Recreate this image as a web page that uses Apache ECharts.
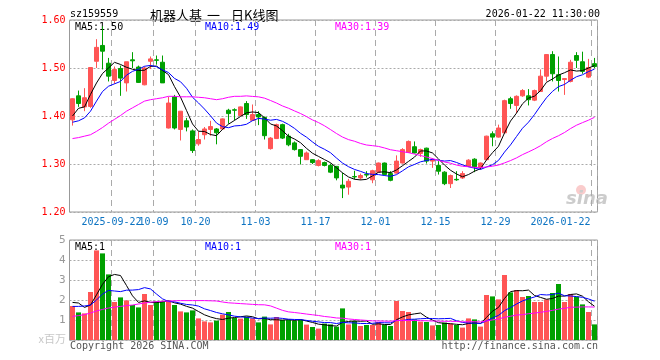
<!DOCTYPE html>
<html><head><meta charset="utf-8">
<script src="https://cdn.jsdelivr.net/npm/echarts@6/dist/echarts.min.js"></script>
<style>html,body{margin:0;padding:0;background:#fff}#c{width:660px;height:360px}</style>
</head><body><div id="c"></div>
<script>
const dates = ['2025-09-11','2025-09-12','2025-09-15','2025-09-16','2025-09-17','2025-09-18','2025-09-19','2025-09-22','2025-09-23','2025-09-24',
'2025-09-25','2025-09-26','2025-09-29','2025-09-30','2025-10-09','2025-10-10','2025-10-13','2025-10-14','2025-10-15','2025-10-16',
'2025-10-17','2025-10-20','2025-10-21','2025-10-22','2025-10-23','2025-10-24','2025-10-27','2025-10-28','2025-10-29','2025-10-30',
'2025-10-31','2025-11-03','2025-11-04','2025-11-05','2025-11-06','2025-11-07','2025-11-10','2025-11-11','2025-11-12','2025-11-13',
'2025-11-14','2025-11-17','2025-11-18','2025-11-19','2025-11-20','2025-11-21','2025-11-24','2025-11-25','2025-11-26','2025-11-27',
'2025-11-28','2025-12-01','2025-12-02','2025-12-03','2025-12-04','2025-12-05','2025-12-08','2025-12-09','2025-12-10','2025-12-11',
'2025-12-12','2025-12-15','2025-12-16','2025-12-17','2025-12-18','2025-12-19','2025-12-22','2025-12-23','2025-12-24','2025-12-25',
'2025-12-26','2025-12-29','2025-12-30','2025-12-31','2026-01-05','2026-01-06','2026-01-07','2026-01-08','2026-01-09','2026-01-12',
'2026-01-13','2026-01-14','2026-01-15','2026-01-16','2026-01-19','2026-01-20','2026-01-21','2026-01-22'];

const tickDates  = ['2025-09-22','2025-10-09','2025-10-20','2025-11-03','2025-11-17','2025-12-01','2025-12-15','2025-12-29','2026-01-22'];
const tickLabels = ['2025-09-22','10-09','10-20','11-03','11-17','12-01','12-15','12-29','2026-01-22'];

const open = [1.392,1.442,1.419,1.420,1.514,1.547,1.510,1.474,1.499,1.469,
1.517,1.502,1.465,1.514,1.517,1.512,1.375,1.440,1.372,1.390,
1.369,1.342,1.361,1.372,1.373,1.373,1.412,1.413,1.401,1.426,
1.391,1.403,1.397,1.332,1.353,1.382,1.358,1.344,1.330,1.309,
1.309,1.297,1.303,1.297,1.295,1.256,1.252,1.274,1.271,1.278,
1.267,1.283,1.302,1.280,1.281,1.302,1.324,1.336,1.322,1.333,
1.306,1.297,1.283,1.259,1.268,1.271,1.295,1.310,1.292,1.309,
1.363,1.356,1.365,1.436,1.422,1.442,1.442,1.433,1.451,1.483,
1.528,1.486,1.476,1.472,1.526,1.513,1.481,1.509];
const close = [1.436,1.426,1.438,1.501,1.543,1.535,1.483,1.497,1.479,1.513,
1.515,1.470,1.500,1.519,1.516,1.469,1.427,1.375,1.410,1.377,
1.328,1.351,1.373,1.378,1.365,1.394,1.405,1.412,1.419,1.403,
1.403,1.398,1.359,1.354,1.382,1.354,1.340,1.330,1.316,1.323,
1.303,1.307,1.297,1.283,1.271,1.250,1.264,1.273,1.276,1.277,
1.286,1.302,1.278,1.266,1.306,1.330,1.347,1.323,1.330,1.306,
1.309,1.285,1.259,1.276,1.267,1.280,1.308,1.294,1.302,1.358,
1.356,1.375,1.432,1.426,1.441,1.453,1.434,1.453,1.483,1.528,
1.488,1.474,1.478,1.512,1.516,1.493,1.501,1.503];
const low = [1.380,1.419,1.410,1.417,1.500,1.497,1.472,1.467,1.442,1.451,
1.500,1.469,1.464,1.498,1.507,1.469,1.374,1.372,1.349,1.368,
1.323,1.338,1.351,1.359,1.341,1.372,1.384,1.391,1.401,1.394,
1.390,1.381,1.351,1.330,1.352,1.352,1.337,1.328,1.299,1.309,
1.300,1.295,1.295,1.281,1.266,1.229,1.236,1.268,1.267,1.272,
1.260,1.282,1.276,1.264,1.280,1.301,1.323,1.322,1.315,1.301,
1.292,1.278,1.256,1.250,1.265,1.269,1.294,1.283,1.288,1.308,
1.337,1.355,1.364,1.415,1.406,1.440,1.422,1.431,1.450,1.472,
1.472,1.451,1.444,1.470,1.500,1.488,1.479,1.500];
const high = [1.437,1.453,1.458,1.501,1.560,1.587,1.521,1.503,1.505,1.513,
1.533,1.505,1.503,1.524,1.526,1.526,1.440,1.444,1.410,1.396,
1.372,1.368,1.377,1.390,1.375,1.395,1.415,1.416,1.420,1.431,
1.424,1.410,1.399,1.356,1.384,1.384,1.363,1.347,1.331,1.326,
1.310,1.310,1.305,1.301,1.296,1.282,1.269,1.286,1.280,1.285,
1.288,1.303,1.303,1.285,1.318,1.333,1.349,1.347,1.332,1.334,
1.312,1.306,1.285,1.278,1.285,1.285,1.310,1.312,1.303,1.359,
1.368,1.382,1.434,1.440,1.443,1.456,1.456,1.455,1.497,1.529,
1.535,1.524,1.479,1.517,1.533,1.534,1.519,1.521];
const volume = [1.70,1.38,1.33,2.40,4.48,4.33,3.28,1.90,2.13,1.98,
1.75,1.63,2.30,1.75,1.93,1.93,1.93,1.75,1.43,1.38,
1.48,1.08,0.93,0.88,0.97,1.27,1.40,1.10,1.07,1.17,
1.08,0.88,1.17,0.78,1.15,1.00,1.00,0.97,1.00,0.77,
0.65,0.57,0.82,0.78,0.67,1.58,0.78,0.95,0.70,0.75,
0.75,0.90,0.77,0.70,1.95,1.45,1.40,1.03,0.92,0.90,
0.73,0.75,0.87,0.82,0.75,0.62,1.08,1.03,0.67,2.25,
2.18,2.03,3.25,2.38,2.50,2.15,2.20,1.90,1.90,2.03,
2.35,2.80,1.90,2.30,2.17,1.78,1.40,0.78];

// moving-average values for days whose window starts before the visible range
const ma5Head  = [1.400,1.416,1.419,1.445];
const ma10Head = [1.387,1.390,1.396,1.410,1.431,1.451,1.462,1.467,1.472];
const ma30Head = [1.353,1.355,1.358,1.361,1.368,1.376,1.385,1.393,1.401,1.410,
1.417,1.424,1.431,1.434,1.436,1.438,1.441,1.441,1.440,1.440,1.440,1.439,1.438,1.436,1.434,1.436,1.439,1.441,1.441];
const vma5Head  = [1.88,1.85,1.63,1.75];
const vma10Head = [1.68,1.68,1.70,1.75,2.00,2.30,2.48,2.45,2.42];
const vma30Head = [1.18,1.22,1.27,1.35,1.45,1.53,1.60,1.64,1.68,1.72,
1.75,1.80,1.85,1.89,1.92,1.94,1.95,1.96,1.97,1.97,1.97,1.97,1.97,1.96,1.95,1.90,1.86,1.84,1.82];

function movingAvg(arr, n, head) {
  return arr.map((_, i) => {
    if (i < n - 1) return head[i];
    let s = 0; for (let j = i - n + 1; j <= i; j++) s += arr[j];
    return +(s / n).toFixed(4);
  });
}

const RED = '#ff5555', GREEN = '#00a000', BLUE_LBL = '#0c73c2';
const MONO = '"DejaVu Sans Mono", monospace';
const tickIdx = tickDates.map(d => dates.indexOf(d));

const chart = echarts.init(document.getElementById('c'), null, {renderer: 'canvas'});
const gridLineX = {show: true, interval: (i) => tickIdx.indexOf(i) >= 0, lineStyle: {color: '#aaaaaa', type: [6, 4], width: 1}};
const lineS = (name, data, color, xi, yi) => ({name, type: 'line', data, xAxisIndex: xi, yAxisIndex: yi, showSymbol: false, symbol: 'none', silent: true,
  lineStyle: {color, width: 1}, itemStyle: {color}, z: 5});

const txt = (text, x, y, fill, font, align) => ({type: 'text', x, y, silent: true,
  style: {text, x: 0, y: 0, fill, font, textAlign: align || 'left', textVerticalAlign: 'middle'}});

// label axis: shows the tick labels whose position in tickIdx satisfies `pick`
const labelAxis = (pick) => ({type: 'category', gridIndex: 0, data: dates, boundaryGap: true, position: 'bottom',
  axisLine: {show: false}, axisTick: {show: false}, splitLine: {show: false},
  axisLabel: {show: true, hideOverlap: false, margin: 5,
    interval: (i) => { const k = tickIdx.indexOf(i); return k >= 0 && pick(k); },
    formatter: (v) => { const k = tickDates.indexOf(v); if (k < 0) return ''; return (k === tickDates.length - 1 ? '{e|' : '{n|') + tickLabels[k] + '}'; },
    rich: {n: {padding: [0, 6, 0, 0], color: BLUE_LBL, fontSize: 10, fontFamily: MONO},
           e: {padding: [0, 68, 0, 0], color: BLUE_LBL, fontSize: 10, fontFamily: MONO}}}});

const ax0 = labelAxis((k) => k > 0);
ax0.splitLine = gridLineX;

chart.setOption({
  animation: false,
  backgroundColor: '#ffffff',
  grid: [
    {left: 69.5, top: 20, width: 528, height: 192, show: true, borderColor: '#999999', borderWidth: 1, backgroundColor: 'transparent'},
    {left: 69.5, top: 240, width: 528, height: 100, show: true, borderColor: '#999999', borderWidth: 1, backgroundColor: 'transparent'}
  ],
  xAxis: [
    ax0,
    {type: 'category', gridIndex: 1, data: dates, boundaryGap: true,
     axisLine: {show: false}, axisTick: {show: false}, axisLabel: {show: false},
     splitLine: gridLineX},
    labelAxis((k) => k === 0)
  ],
  yAxis: [
    {type: 'value', gridIndex: 0, min: 1.2, max: 1.6, interval: 0.1,
     axisLine: {show: false}, axisTick: {show: false},
     axisLabel: {color: '#ff0000', fontSize: 10, fontFamily: MONO, margin: 4, formatter: (v) => v.toFixed(2)},
     splitLine: {show: true, lineStyle: {color: '#aaaaaa', type: [2, 2], width: 1}}},
    {type: 'value', gridIndex: 1, min: 0, max: 5, interval: 1,
     axisLine: {show: false}, axisTick: {show: false},
     axisLabel: {color: '#999999', fontSize: 11, fontFamily: MONO, margin: 4, formatter: (v) => v === 0 ? '' : String(v)},
     splitLine: {show: true, lineStyle: {color: '#aaaaaa', type: [2, 2], width: 1}}}
  ],
  series: [
    {name: 'K', type: 'candlestick', xAxisIndex: 0, yAxisIndex: 0, barWidth: 4,
     data: dates.map((d, i) => [open[i], close[i], low[i], high[i]]),
     itemStyle: {color: RED, color0: GREEN, borderColor: RED, borderColor0: GREEN, borderWidth: 1}, z: 3},
    lineS('MA5', movingAvg(close, 5, ma5Head), '#000000', 0, 0),
    lineS('MA10', movingAvg(close, 10, ma10Head), '#0000ff', 0, 0),
    lineS('MA30', movingAvg(close, 30, ma30Head), '#ff00ff', 0, 0),
    {name: 'VOL', type: 'bar', xAxisIndex: 1, yAxisIndex: 1, barWidth: 5,
     data: volume.map((v, i) => ({value: v, itemStyle: {color: close[i] >= open[i] ? RED : GREEN}})), z: 3},
    lineS('VMA5', movingAvg(volume, 5, vma5Head), '#000000', 1, 1),
    lineS('VMA10', movingAvg(volume, 10, vma10Head), '#0000ff', 1, 1),
    lineS('VMA30', movingAvg(volume, 30, vma30Head), '#ff00ff', 1, 1)
  ],
  graphic: [
    txt('sz159559', 70, 14, '#000000', '10px ' + MONO),
    txt('机器人基', 150, 15, '#000000', '13px "Noto Sans CJK SC"'),
    txt('一', 207, 15, '#000000', '13px "Noto Sans CJK SC"'),
    txt('日K线图', 231, 15, '#000000', '13px "Noto Sans CJK SC"'),
    txt('2026-01-22 11:30:00', 600, 14, '#000000', '10px ' + MONO, 'right'),
    txt('MA5:1.50', 75, 27, '#000000', '10px ' + MONO),
    txt('MA10:1.49', 205, 27, '#0000ff', '10px ' + MONO),
    txt('MA30:1.39', 335, 27, '#ff00ff', '10px ' + MONO),
    txt('MA5:1', 75, 247, '#000000', '10px ' + MONO),
    txt('MA10:1', 205, 247, '#0000ff', '10px ' + MONO),
    txt('MA30:1', 335, 247, '#ff00ff', '10px ' + MONO),
    txt('x百万', 66, 339, '#c8c8c8', '11px "Noto Sans CJK SC"', 'right'),
    txt('Copyright 2026 SINA.COM', 70, 346, '#555555', '10px ' + MONO),
    txt('http://finance.sina.com.cn', 598, 346, '#555555', '10px ' + MONO, 'right'),
    {type: 'circle', x: 581, y: 190, silent: true, shape: {r: 5}, style: {fill: 'rgba(240,110,110,0.35)'}},
    txt('sina', 566, 199, '#cccccc', 'italic bold 18px "DejaVu Sans"')
  ]
});
</script></body></html>
